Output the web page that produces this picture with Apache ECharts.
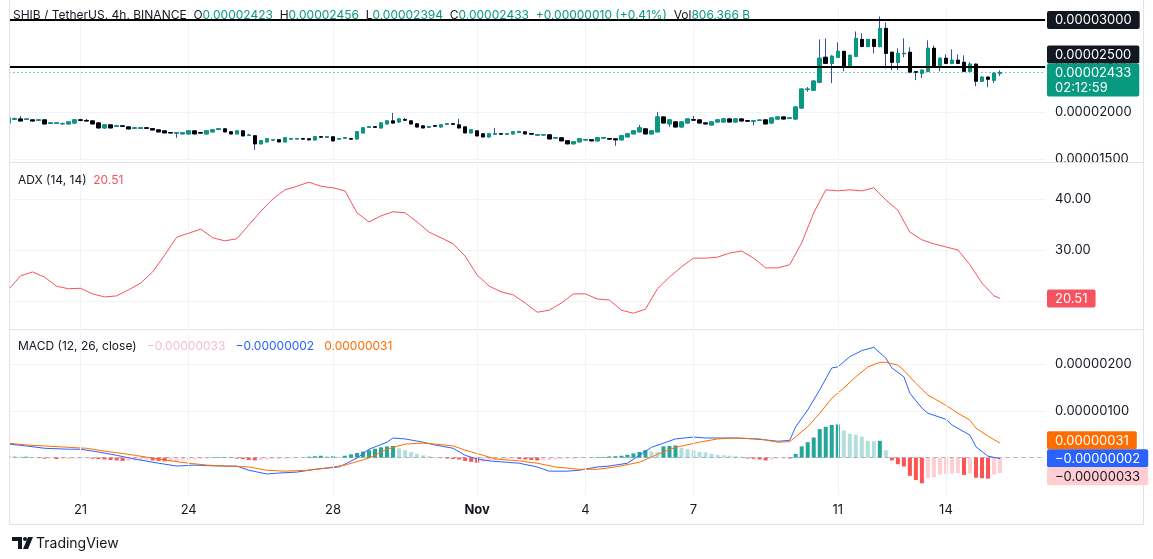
<!DOCTYPE html>
<html><head><meta charset="utf-8">
<script src="https://cdn.jsdelivr.net/npm/echarts@6/dist/echarts.min.js"></script>
<style>html,body{margin:0;padding:0;background:#fff;}#c{width:1153px;height:559px;}</style>
</head><body><div id="c"></div>
<script>
// ---------- DATA (prices in units of 0.00000001 USDT) ----------
const startTime = '2024-10-19T00:00:00Z';
const barHours = 4;
const emptySlots = 7;
const dayLabelDates = ['2024-10-21','2024-10-24','2024-10-28','2024-11-01','2024-11-04','2024-11-07','2024-11-11','2024-11-14'];
const dayLabels = ['21','24','28','Nov','4','7','11','14'];

const openE8 = [1887,1928,1930,1925,1920,1916,1920,1884,1884,1879,1877,1887,1920,1914,1909,1887,1834,1866,1851,1855,1844,1830,1830,1834,1825,1812,1801,1782,1778,1769,1769,1801,1782,1769,1791,1818,1823,1791,1769,1801,1752,1748,1662,1683,1703,1705,1683,1713,1715,1717,1715,1705,1737,1733,1737,1713,1724,1717,1715,1780,1841,1845,1834,1877,1909,1898,1922,1909,1877,1855,1842,1857,1844,1874,1877,1866,1844,1780,1801,1769,1737,1767,1770,1766,1769,1785,1791,1771,1756,1758,1758,1724,1726,1694,1662,1683,1703,1705,1694,1724,1717,1715,1705,1737,1769,1791,1823,1769,1791,1952,1877,1898,1844,1887,1922,1920,1887,1866,1898,1898,1930,1898,1930,1911,1905,1914,1920,1887,1930,1952,1938,1930,2049,2248,2242,2328,2597,2532,2597,2661,2500,2608,2790,2715,2790,2715,2909,2651,2543,2636,2651,2440,2425,2446,2694,2500,2586,2532,2565,2543,2446,2522,2339,2382,2350,2423];
const closeE8 = [1941,1932,1909,1930,1909,1920,1877,1887,1887,1880,1898,1920,1916,1909,1877,1834,1866,1834,1855,1852,1823,1834,1834,1830,1812,1791,1780,1780,1780,1780,1801,1769,1778,1801,1812,1823,1791,1769,1801,1748,1755,1662,1694,1715,1707,1683,1726,1717,1718,1713,1705,1737,1734,1737,1694,1717,1727,1713,1791,1834,1845,1841,1887,1909,1887,1930,1918,1877,1844,1834,1846,1853,1866,1877,1874,1834,1780,1812,1748,1737,1769,1770,1767,1769,1791,1795,1769,1767,1760,1760,1715,1728,1694,1662,1683,1715,1707,1694,1726,1728,1713,1705,1748,1769,1801,1834,1769,1801,1952,1887,1920,1844,1898,1930,1918,1887,1877,1898,1920,1930,1898,1930,1909,1907,1909,1918,1877,1941,1952,1930,1941,2059,2253,2253,2339,2586,2532,2608,2661,2500,2618,2801,2715,2790,2715,2909,2640,2543,2640,2640,2436,2436,2457,2694,2500,2586,2532,2565,2532,2446,2522,2339,2382,2360,2425,2433];
const lowE8 = [1877,1920,1903,1920,1903,1909,1872,1877,1880,1866,1872,1880,1905,1903,1872,1828,1823,1828,1845,1845,1818,1823,1825,1825,1807,1786,1775,1775,1726,1764,1764,1764,1772,1764,1786,1812,1786,1764,1764,1742,1745,1597,1656,1678,1696,1678,1678,1708,1708,1708,1699,1699,1728,1728,1690,1707,1718,1708,1710,1775,1834,1834,1828,1872,1882,1893,1909,1872,1839,1828,1834,1845,1839,1870,1868,1828,1775,1775,1742,1731,1731,1760,1760,1760,1764,1780,1764,1760,1750,1750,1710,1715,1688,1656,1656,1678,1696,1688,1688,1718,1707,1640,1699,1731,1764,1786,1764,1764,1786,1882,1844,1839,1839,1882,1912,1882,1872,1861,1893,1893,1893,1893,1903,1900,1860,1908,1872,1882,1925,1925,1930,1925,2040,2225,2235,2317,2525,2317,2590,2446,2490,2600,2705,2705,2640,2705,2478,2457,2457,2597,2425,2350,2371,2436,2490,2446,2522,2522,2522,2436,2436,2285,2328,2274,2320,2394];
const highE8 = [1946,1945,1963,1938,1925,1930,1925,1893,1893,1890,1903,1925,1932,1930,1914,1893,1870,1870,1866,1866,1848,1840,1840,1840,1830,1818,1807,1788,1786,1786,1807,1807,1788,1807,1818,1834,1828,1796,1807,1807,1770,1753,1699,1720,1713,1710,1731,1723,1723,1722,1720,1742,1745,1744,1742,1724,1735,1722,1796,1840,1855,1851,1893,1914,1995,1935,1941,1914,1882,1860,1852,1862,1870,1884,1882,1930,1850,1818,1807,1775,1775,1834,1775,1775,1796,1801,1796,1777,1766,1766,1764,1735,1731,1699,1688,1720,1715,1710,1731,1734,1724,1720,1753,1775,1807,1866,1828,1807,2006,1957,1925,1903,1903,1935,1963,1925,1893,1903,1925,1941,1941,1935,1935,1918,1916,1925,1925,1946,1957,1957,1948,2065,2260,2275,2350,2790,2801,2618,2758,2667,2625,2876,2855,2797,2797,3038,2973,2660,2694,2801,2705,2446,2465,2780,2726,2595,2629,2683,2629,2618,2543,2532,2390,2390,2430,2456];

const adxPoints = [[0,22.2],[2,24.9],[4,25.7],[6,24.7],[8,22.9],[10,22.4],[12,22.5],[14,21.4],[16,20.8],[18,21.0],[20,22.2],[22,23.5],[24,25.7],[26,29.0],[28,32.5],[30,33.3],[32,34.1],[34,32.4],[36,31.8],[38,32.2],[40,34.9],[42,37.6],[44,40.0],[46,41.8],[48,42.5],[50,43.3],[52,42.5],[54,42.2],[56,41.6],[58,37.3],[60,35.5],[62,36.7],[64,37.5],[66,37.3],[68,35.5],[70,33.5],[72,32.4],[74,31.2],[76,28.8],[78,25.1],[80,22.9],[82,21.8],[84,21.2],[86,19.6],[88,17.8],[90,18.2],[92,19.6],[94,21.4],[96,21.4],[98,20.4],[100,20.2],[102,18.2],[104,17.6],[106,18.4],[108,22.4],[110,24.7],[112,26.7],[114,28.4],[116,28.4],[118,28.6],[120,29.4],[122,29.8],[124,28.4],[126,26.5],[128,26.5],[130,27.1],[132,31.4],[134,37.3],[136,41.8],[138,41.6],[140,41.8],[142,41.6],[144,42.2],[146,39.8],[148,37.8],[150,33.5],[152,32.0],[154,31.2],[156,30.6],[158,30.0],[160,27.1],[162,23.5],[164,21.0],[165,20.51]];

// MACD values in units of 0.00000001
const macdPointsE8 = [[0,29],[3,25],[6,20],[10,18],[12,18],[15,12],[18,5],[21,-3],[25,-12],[28,-18],[31,-16],[35,-18],[38,-18],[40,-27],[43,-35],[45,-33],[48,-31],[51,-25],[55,-20],[56,-14],[58,-1],[60,18],[63,33],[64,42],[66,40],[69,33],[71,27],[74,20],[76,5],[78,-3],[80,-7],[83,-10],[85,-12],[88,-20],[90,-29],[93,-29],[95,-27],[98,-20],[100,-18],[103,-12],[105,5],[107,22],[109,31],[111,40],[114,44],[116,42],[119,42],[121,42],[124,40],[126,38],[128,35],[130,37],[131,66],[133,102],[135,145],[137,192],[138,194],[140,216],[142,229],[144,236],[146,213],[147,192],[149,173],[150,138],[152,106],[153,95],[156,82],[157,70],[160,48],[161,23],[163,3],[165,-2]];
const signalPointsE8 = [[0,31],[3,27],[6,25],[10,22],[13,20],[16,14],[20,7],[23,1],[26,-5],[30,-12],[33,-16],[36,-18],[40,-20],[43,-27],[46,-29],[50,-27],[53,-22],[56,-16],[60,-1],[63,18],[66,29],[69,31],[71,29],[74,25],[76,16],[79,5],[81,-3],[85,-7],[88,-12],[91,-20],[95,-25],[98,-25],[101,-20],[105,-10],[108,7],[111,22],[115,33],[118,40],[121,42],[125,40],[128,33],[130,34],[131,45],[133,66],[135,95],[137,127],[139,149],[141,173],[143,194],[145,204],[146,204],[148,198],[149,187],[151,159],[153,134],[156,112],[158,95],[160,80],[161,63],[163,46],[165,31]];
const histE8 = [4,3,2,2,1,-1,-2,-2,-3,-3,-3,-2,-2,-1,-2,-3,-4,-5,-6,-7,-7,-6,-5,-5,-6,-7,-8,-8,-7,-6,-5,-4,-3,-2,1,1,1,1,-2,-3,-5,-6,-5,-4,-3,-3,-2,-2,-1,-1,2,3,4,3,3,2,4,7,10,13,16,19,22,24,25,20,16,12,8,5,3,1,-1,-2,-3,-4,-7,-9,-11,-9,-7,-5,-4,-3,-2,-3,-4,-5,-6,-6,-5,-4,-3,-2,-2,-1,-0.5,0.5,1,1.5,2.5,3,4,6,9,12,16,13,12,24,25,26,21,18,16,12,11,8,6,5,4,3,2,-2,-2.5,-4,-6,-4,-2,-1.5,-2,8,24,33,43,61,66,70,71,58,51,49,45,36,35,36,16,-6,-14,-19,-39,-48,-55,-44,-42,-36,-35,-34,-33,-37,-34,-43,-44,-45,-36,-33];

const levelLinesE8 = [3000, 2500];
const lastCloseE8 = 2433;
const countdown = '02:12:59';
const adxLast = 20.51;
const macdLastE8 = -2, signalLastE8 = 31, histLastE8 = -33;

// ---------- BUILD ----------
const E8 = 1e-8;
const FONT = 'Inter, Roboto, "Noto Sans", sans-serif';
const TXT = '#131722';
const UP = '#089981', DOWN = '#000000', WICK = '#34509e';
const GRID_C = '#f0f3fa';
const T = 'rgba(0,0,0,0)';

const nBars = closeE8.length;
const t0 = Date.parse(startTime);
const categories = [];
for (let i = 0; i < nBars + emptySlots; i++) categories.push(new Date(t0 + i * barHours * 3600e3).toISOString().slice(0, 16));
const labelMap = {};
dayLabelDates.forEach((d, k) => { labelMap[d + 'T00:00'] = dayLabels[k]; });

const wickData = openE8.map((o, i) => [o * E8, closeE8[i] * E8, lowE8[i] * E8, highE8[i] * E8]);
const bodyData = openE8.map((o, i) => [o * E8, closeE8[i] * E8, Math.min(o, closeE8[i]) * E8, Math.max(o, closeE8[i]) * E8]);
const histData = histE8.map((v, i) => {
  const p = i > 0 ? histE8[i - 1] : v;
  const c = v >= 0 ? (v >= p ? '#26a69a' : '#b2dfdb') : (v < p ? '#ff5252' : '#ffcdd2');
  return { value: v * E8, itemStyle: { color: c } };
});
const vLines = dayLabelDates.map(d => ({ xAxis: d + 'T00:00' }));
const vLineMark = { silent: true, symbol: 'none', label: { show: false }, lineStyle: { color: GRID_C, width: 1, type: 'solid' }, data: vLines, z: 0 };

const GL = 5.4, GR = 107.9;
const G = [
  { left: GL, right: GR, top: 8, height: 150.75, outerBoundsMode: 'none' },
  { left: GL, right: GR, top: 165, height: 161.5, outerBoundsMode: 'none' },
  { left: GL, right: GR, top: 331, height: 164, outerBoundsMode: 'none' }
];
function xAx(idx, showLabels) {
  return {
    type: 'category', gridIndex: idx, data: categories, boundaryGap: true,
    axisLine: { show: false }, axisTick: { show: false }, splitLine: { show: false },
    axisPointer: { show: false },
    axisLabel: showLabels ? {
      show: true, margin: 9, color: TXT, fontSize: 13, fontFamily: FONT,
      interval: (i, v) => Object.prototype.hasOwnProperty.call(labelMap, v),
      formatter: v => labelMap[v] === 'Nov' ? '{b|Nov}' : (labelMap[v] || ''),
      rich: { b: { fontWeight: 'bold', fontSize: 13, fontFamily: FONT, color: TXT } }
    } : { show: false }
  };
}
function yAx(idx, min, max, interval, colors, fmt) {
  return {
    type: 'value', gridIndex: idx, position: 'right', min, max, interval, scale: false,
    axisLine: { show: false }, axisTick: { show: false },
    splitLine: { show: true, lineStyle: { color: colors, width: 1 } },
    axisLabel: { show: true, inside: false, margin: 10, align: 'left', color: TXT, fontSize: 13, fontFamily: FONT, formatter: fmt }
  };
}
const macdColors = []; for (let k = 0; k < 20; k++) macdColors.push(k === 16 ? GRID_C : T);

const option = {
  animation: false,
  backgroundColor: '#ffffff',
  grid: G,
  xAxis: [xAx(0, false), xAx(1, false), xAx(2, true)],
  yAxis: [
    yAx(0, 1500 * E8, 3130 * E8, 500 * E8, [GRID_C, GRID_C, GRID_C, GRID_C, T], v => { const e = Math.round(v / E8); return (e % 500 === 0 && e <= 3000) ? v.toFixed(8) : ''; }),
    yAx(1, 15, 46.67, 5, [T, GRID_C, T, GRID_C, T, GRID_C, T, T], v => (Math.round(v) % 10 === 0 && v < 46) ? v.toFixed(2) : ''),
    yAx(2, -80 * E8, 271 * E8, 5 * E8, macdColors, v => { const e = Math.round(v / E8); return (e === 100 || e === 200) ? v.toFixed(8) : ''; })
  ],
  series: [
    { type: 'candlestick', name: 'wick', xAxisIndex: 0, yAxisIndex: 0, barWidth: 4, data: wickData, silent: true,
      itemStyle: { color: T, color0: T, borderColor: WICK, borderColor0: WICK, borderWidth: 1 },
      markLine: vLineMark },
    { type: 'candlestick', name: 'body', xAxisIndex: 0, yAxisIndex: 0, barWidth: 4, data: bodyData, silent: true,
      itemStyle: { color: UP, color0: DOWN, borderColor: UP, borderColor0: DOWN, borderWidth: 1 } },
    { type: 'line', name: 'levels', xAxisIndex: 0, yAxisIndex: 0, data: closeE8.map(c => c * E8), silent: true,
      showSymbol: false, symbol: 'none', lineStyle: { opacity: 0, width: 0 }, z: 4,
      markLine: { silent: true, symbol: 'none', label: { show: false }, animation: false, precision: 12,
        data: [
          ...levelLinesE8.map(v => ({ yAxis: v * E8, lineStyle: { color: '#000000', width: 2, type: 'solid' } })),
          { yAxis: lastCloseE8 * E8, lineStyle: { color: UP, width: 1, type: [1, 3] } }
        ] } },
    { type: 'line', name: 'ADX', xAxisIndex: 1, yAxisIndex: 1, data: adxPoints, showSymbol: false, symbol: 'none',
      lineStyle: { color: '#f7525f', width: 1 }, silent: true, markLine: vLineMark },
    { type: 'bar', name: 'Histogram', xAxisIndex: 2, yAxisIndex: 2, barWidth: 4, data: histData, silent: true,
      markLine: { silent: true, symbol: 'none', label: { show: false }, precision: 12,
        data: [...vLines, { yAxis: 0, lineStyle: { color: 'rgba(120,123,134,0.55)', type: [4, 4], width: 1 } }],
        lineStyle: { color: GRID_C, width: 1, type: 'solid' } } },
    { type: 'line', name: 'MACD', xAxisIndex: 2, yAxisIndex: 2, data: macdPointsE8.map(p => [p[0], p[1] * E8]), showSymbol: false, symbol: 'none',
      lineStyle: { color: '#2962ff', width: 1 }, silent: true, z: 3 },
    { type: 'line', name: 'Signal', xAxisIndex: 2, yAxisIndex: 2, data: signalPointsE8.map(p => [p[0], p[1] * E8]), showSymbol: false, symbol: 'none',
      lineStyle: { color: '#ff6d00', width: 1 }, silent: true, z: 3 }
  ]
};

const chart = echarts.init(document.getElementById('c'), null, { renderer: 'canvas' });
chart.setOption(option);

// ---------- overlays: frame, headers, value tags ----------
const mctx = document.createElement('canvas').getContext('2d');
function tw(t, size, weight) { mctx.font = (weight || 'normal') + ' ' + size + 'px ' + FONT; return mctx.measureText(t).width; }
const fmt8 = e => (e < 0 ? '\u2212' : '') + (Math.abs(e) * E8).toFixed(8);

const tags = [
  { pane: 0, value: levelLinesE8[0] * E8, lines: [fmt8(levelLinesE8[0])], bg: '#131722', fg: '#fff' },
  { pane: 0, value: levelLinesE8[1] * E8, lines: [fmt8(levelLinesE8[1])], bg: '#131722', fg: '#fff' },
  { pane: 0, value: lastCloseE8 * E8, lines: [fmt8(lastCloseE8), countdown], bg: UP, fg: '#fff', fixed: true },
  { pane: 1, value: adxLast, lines: [adxLast.toFixed(2)], bg: '#f7525f', fg: '#fff' },
  { pane: 2, value: signalLastE8 * E8, lines: [fmt8(signalLastE8)], bg: '#ff6d00', fg: '#fff' },
  { pane: 2, value: macdLastE8 * E8, lines: [fmt8(macdLastE8)], bg: '#2962ff', fg: '#fff' },
  { pane: 2, value: histLastE8 * E8, lines: [fmt8(histLastE8)], bg: '#ffcdd2', fg: TXT }
];
const LH = 18;
tags.forEach(t => { t.y = chart.convertToPixel({ yAxisIndex: t.pane }, t.value); t.h = t.lines.length > 1 ? 33 : LH; t.top = t.y - 9; });
[0, 1, 2].forEach(p => {
  const list = tags.filter(t => t.pane === p).sort((a, b) => a.y - b.y);
  for (let it = 0; it < 30; it++) {
    let moved = false;
    for (let k = 1; k < list.length; k++) {
      const a = list[k - 1], b = list[k];
      const ov = a.top + a.h - b.top;
      if (ov > 0.01) {
        if (a.fixed) b.top += ov; else if (b.fixed) a.top -= ov; else { a.top -= ov / 2; b.top += ov / 2; }
        moved = true;
      }
    }
    if (!moved) break;
  }
});

const gfx = [];
const BORDER = '#e0e3eb';
gfx.push({ type: 'rect', silent: true, z: 49, shape: { x: 0, y: 0, width: 9, height: 530 }, style: { fill: '#ffffff' } });
const line = (x1, y1, x2, y2) => ({ type: 'line', silent: true, z: 50, shape: { x1, y1, x2, y2 }, style: { stroke: BORDER, lineWidth: 1 } });
gfx.push(line(9.5, 0, 9.5, 524.5), line(1143.5, 0, 1143.5, 524.5), line(9.5, 524.5, 1143.5, 524.5), line(9.5, 162.5, 1143.5, 162.5), line(9.5, 329.5, 1143.5, 329.5));

tags.forEach(t => {
  const w = Math.max(...t.lines.map(s => tw(s, 13))) + 16;
  gfx.push({ type: 'rect', silent: true, z: 60, shape: { x: 1047, y: t.top, width: w, height: t.h, r: 2 }, style: { fill: t.bg } });
  t.lines.forEach((s, k) => gfx.push({ type: 'text', silent: true, z: 61, x: 1055, y: t.top + 9 + k * 15 + 0.5,
    style: { text: s, fill: t.fg, font: '13px ' + FONT, textVerticalAlign: 'middle', textAlign: 'left' } }));
});

const HF = '12px ' + FONT;
gfx.push({ type: 'text', silent: true, z: 60, x: 13, y: 15, style: {
  text: '{k|SHIB / TetherUS, 4h, BINANCE}  {k|O}{g|0.00002423}  {k|H}{g|0.00002456}  {k|L}{g|0.00002394}  {k|C}{g|0.00002433}  {g|+0.00000010 (+0.41%)}  {k|Vol}{g|806.366 B}',
  font: HF, textVerticalAlign: 'middle',
  rich: { k: { fill: TXT, font: HF }, g: { fill: UP, font: HF } } } });
gfx.push({ type: 'text', silent: true, z: 60, x: 18, y: 180, style: {
  text: '{k|ADX (14, 14)}  {r|20.51}', font: HF, textVerticalAlign: 'middle',
  rich: { k: { fill: TXT, font: HF }, r: { fill: '#f7525f', font: HF } } } });
gfx.push({ type: 'text', silent: true, z: 60, x: 18, y: 346, style: {
  text: '{k|MACD (12, 26, close)}   {p|\u22120.00000033}   {b|\u22120.00000002}   {o|0.00000031}', font: HF, textVerticalAlign: 'middle',
  rich: { k: { fill: TXT, font: HF }, p: { fill: '#f8bbd0', font: HF }, b: { fill: '#2962ff', font: HF }, o: { fill: '#ff6d00', font: HF } } } });
// TradingView logo
gfx.push({ type: 'polygon', silent: true, z: 60, shape: { points: [[12, 537], [22, 537], [22, 549], [18, 549], [18, 541], [12, 541]] }, style: { fill: TXT } });
gfx.push({ type: 'circle', silent: true, z: 60, shape: { cx: 25, cy: 539, r: 2 }, style: { fill: TXT } });
gfx.push({ type: 'polygon', silent: true, z: 60, shape: { points: [[28, 537], [33, 537], [28, 549], [23, 549]] }, style: { fill: TXT } });
gfx.push({ type: 'text', silent: true, z: 60, x: 36, y: 544, style: { text: 'TradingView', fill: TXT, font: '14px ' + FONT, textVerticalAlign: 'middle' } });

chart.setOption({ graphic: { elements: gfx } });
</script></body></html>
